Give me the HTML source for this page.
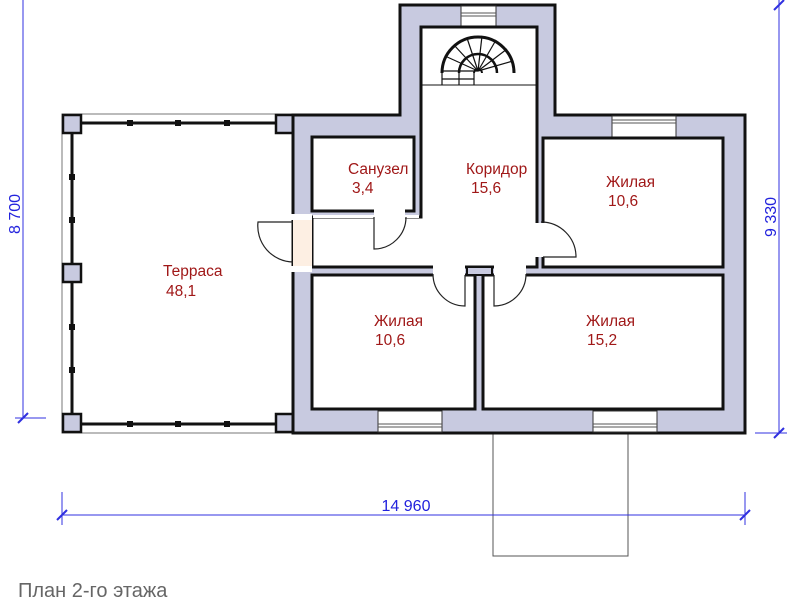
<!DOCTYPE html>
<html><head><meta charset="utf-8"><style>
html,body{margin:0;padding:0;background:#fff;width:787px;height:600px;overflow:hidden}
svg{display:block}
.t{font-family:"Liberation Sans",sans-serif;font-size:15.5px;fill:#a01818}
.d{font-family:"Liberation Sans",sans-serif;font-size:16px;fill:#2222dd}
</style></head><body>
<svg width="787" height="600" viewBox="0 0 787 600" xmlns="http://www.w3.org/2000/svg">
<rect x="493" y="433" width="135" height="123" fill="none" stroke="#555" stroke-width="1"/>
<g stroke="#3030e0" stroke-width="1" fill="none">
<line x1="23" y1="0" x2="23" y2="418"/><line x1="15" y1="418" x2="46" y2="418"/>
<line x1="18" y1="423" x2="28" y2="413" stroke-width="2"/>
<line x1="779" y1="0" x2="779" y2="433"/><line x1="755" y1="433" x2="787" y2="433"/>
<line x1="774" y1="438" x2="784" y2="428" stroke-width="2"/>
<line x1="774" y1="10" x2="784" y2="0" stroke-width="2"/>
<line x1="62" y1="515" x2="745" y2="515"/>
<line x1="62" y1="492" x2="62" y2="525"/><line x1="745" y1="492" x2="745" y2="525"/>
<line x1="57" y1="520" x2="67" y2="510" stroke-width="2"/><line x1="740" y1="520" x2="750" y2="510" stroke-width="2"/>
</g>
<text class="d" transform="translate(20,214) rotate(-90)" text-anchor="middle">8 700</text>
<text class="d" transform="translate(776,217) rotate(-90)" text-anchor="middle">9 330</text>
<text class="d" x="406" y="511" text-anchor="middle">14 960</text>
<rect x="62" y="114" width="231" height="319" fill="none" stroke="#777" stroke-width="1"/>
<g stroke="#111" stroke-width="3">
<line x1="81" y1="123" x2="275" y2="123"/><line x1="81" y1="424" x2="275" y2="424"/>
<line x1="72" y1="133" x2="72" y2="414"/>
</g>
<g fill="#111">
<rect x="127" y="120" width="6" height="6"/><rect x="175" y="120" width="6" height="6"/><rect x="224" y="120" width="6" height="6"/>
<rect x="127" y="421" width="6" height="6"/><rect x="175" y="421" width="6" height="6"/><rect x="224" y="421" width="6" height="6"/>
<rect x="69" y="174" width="6" height="6"/><rect x="69" y="217" width="6" height="6"/><rect x="69" y="324" width="6" height="6"/><rect x="69" y="367" width="6" height="6"/>
</g>
<g fill="#c8cae0" stroke="#111" stroke-width="2.5">
<rect x="63" y="115" width="18" height="18"/><rect x="63" y="264" width="18" height="18"/><rect x="63" y="414" width="18" height="18"/>
<rect x="276" y="115" width="17" height="18"/><rect x="276" y="414" width="17" height="18"/>
</g>
<path d="M293,115 L400,115 L400,5 L555,5 L555,115 L745,115 L745,433 L293,433 Z" fill="#c8cae0" stroke="#111" stroke-width="3"/>
<g fill="#fff" stroke="#333" stroke-width="1">
<rect x="461" y="6" width="35" height="20"/><rect x="612" y="116" width="64" height="21"/>
<rect x="378" y="411" width="64" height="21"/><rect x="593" y="411" width="64" height="21"/>
</g>
<g stroke="#555" stroke-width="1">
<line x1="461" y1="13" x2="496" y2="13"/><line x1="461" y1="16" x2="496" y2="16"/>
<line x1="612" y1="120" x2="676" y2="120"/><line x1="612" y1="123" x2="676" y2="123"/>
<line x1="378" y1="424" x2="442" y2="424"/><line x1="378" y1="427" x2="442" y2="427"/>
<line x1="593" y1="424" x2="657" y2="424"/><line x1="593" y1="427" x2="657" y2="427"/>
</g>
<g fill="#fff" stroke="#111" stroke-width="3">
<rect x="312" y="137" width="102" height="74"/>
<path d="M421,27 L537,27 L537,267 L312,267 L312,217 L421,217 Z"/>
<rect x="543" y="138" width="180" height="129"/>
<rect x="312" y="275" width="163" height="134"/>
<rect x="483" y="275" width="240" height="134"/>
</g>
<rect x="467" y="267" width="25" height="8" fill="#c8cae0" stroke="#111" stroke-width="2"/>
<g fill="#fff">
<rect x="374" y="209" width="31" height="10"/>
<rect x="433" y="265" width="32" height="12"/>
<rect x="494" y="265" width="32" height="12"/>
<rect x="535" y="223" width="10" height="34"/>
<rect x="313" y="215" width="106" height="3"/>
</g>
<rect x="293" y="219" width="19" height="48" fill="#fdefe3"/>
<rect x="291" y="214" width="21" height="6" fill="#fff"/>
<rect x="291" y="266" width="21" height="6" fill="#fff"/>
<g fill="none" stroke="#222" stroke-width="1.2">
<path d="M374,217 L374,249 A32,32 0 0 0 406,217"/>
<path d="M465,275 L465,306 A32,32 0 0 1 433,274"/>
<path d="M494,275 L494,306 A32,32 0 0 0 526,274"/>
<path d="M543,257 L576,257 A35,35 0 0 0 541,222"/>
<path d="M293,222 L258,222 A36,36 0 0 0 293,262"/>
</g>
<g fill="none" stroke="#111">
<line x1="421" y1="85" x2="537" y2="85" stroke-width="1"/>
<path d="M442,73 A36,36 0 0 1 514,73" stroke-width="3"/>
<path d="M459,73 A19,19 0 0 1 497,73" stroke-width="2.5"/>
<path d="M474,73 A4,4 0 0 1 482,73" stroke-width="2"/>
<g stroke-width="1.2">
<line x1="478" y1="71" x2="442" y2="71"/><line x1="478" y1="71" x2="445" y2="56"/><line x1="478" y1="71" x2="454" y2="45"/>
<line x1="478" y1="71" x2="467" y2="38"/><line x1="478" y1="71" x2="482" y2="36"/><line x1="478" y1="71" x2="496" y2="40"/>
<line x1="478" y1="71" x2="507" y2="49"/><line x1="478" y1="71" x2="513" y2="61"/>
<line x1="442" y1="73" x2="442" y2="85"/><line x1="459" y1="73" x2="459" y2="85"/><line x1="474" y1="73" x2="474" y2="85"/>
<line x1="442" y1="79" x2="474" y2="79"/>
</g>
</g>
<text class="t" x="348" y="174">Санузел</text><text class="t" x="352" y="193">3,4</text>
<text class="t" x="466" y="174">Коридор</text><text class="t" x="471" y="193">15,6</text>
<text class="t" x="606" y="187">Жилая</text><text class="t" x="608" y="206">10,6</text>
<text class="t" x="163" y="276">Терраса</text><text class="t" x="166" y="296">48,1</text>
<text class="t" x="374" y="326">Жилая</text><text class="t" x="375" y="345">10,6</text>
<text class="t" x="586" y="326">Жилая</text><text class="t" x="587" y="345">15,2</text>
<text x="18" y="597" font-family="Liberation Sans, sans-serif" font-size="20" fill="#666">План 2-го этажа</text>
</svg>
</body></html>
